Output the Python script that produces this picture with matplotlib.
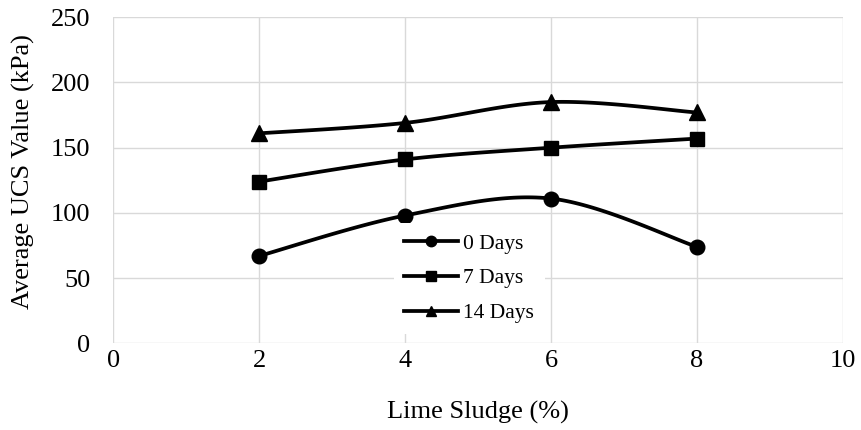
import numpy as np
import matplotlib
matplotlib.use("Agg")
import matplotlib.pyplot as plt

plt.rcParams['font.family'] = ['Liberation Serif', 'DejaVu Serif']

lime_sludge = [2, 4, 6, 8]
ucs_0_days = [67, 98, 111, 74]
ucs_7_days = [124, 141, 150, 157]
ucs_14_days = [161, 169, 185, 177]
series_labels = ["0 Days", "7 Days", "14 Days"]
x_ticks = [0, 2, 4, 6, 8, 10]
y_ticks = [0, 50, 100, 150, 200, 250]


def smooth(xs, ys, n=40, tension=1/6):
    """Excel-like smoothed curve (Catmull-Rom Bezier)."""
    p = np.column_stack([xs, ys]).astype(float)
    pts = []
    for i in range(len(p) - 1):
        p0 = p[i - 1] if i > 0 else p[i]
        p1 = p[i]
        p2 = p[i + 1]
        p3 = p[i + 2] if i + 2 < len(p) else p[i + 1]
        c1 = p1 + (p2 - p0) * tension
        c2 = p2 - (p3 - p1) * tension
        t = np.linspace(0, 1, n)[:, None]
        seg = ((1 - t) ** 3) * p1 + 3 * ((1 - t) ** 2) * t * c1 + 3 * (1 - t) * t ** 2 * c2 + t ** 3 * p2
        pts.append(seg if i == 0 else seg[1:])
    pts = np.vstack(pts)
    return pts[:, 0], pts[:, 1]


fig = plt.figure(figsize=(8.61, 4.30), dpi=100)
ax = fig.add_axes([0.1317, 0.2016, 0.847, 0.7582])

markers = ['o', 's', '^']
msizes = [10.5, 10.5, 11]
for ys, lab, m, ms in zip([ucs_0_days, ucs_7_days, ucs_14_days], series_labels, markers, msizes):
    sx, sy = smooth(lime_sludge, ys)
    ax.plot(sx, sy, color='black', lw=2.7, zorder=3, solid_capstyle='round')
    ax.plot(lime_sludge, ys, linestyle='none', marker=m, color='black', markersize=ms, zorder=4)
    ax.plot([], [], color='black', lw=2.7, marker=m, markersize=7.5, label=lab)

ax.set_xlim(0, 10)
ax.set_ylim(0, 250)
ax.set_xticks(x_ticks)
ax.set_yticks(y_ticks)
ax.grid(True, color='#D9D9D9', lw=1.0, zorder=0)
ax.set_axisbelow(True)
for s in ax.spines.values():
    s.set_visible(False)
ax.tick_params(length=0, labelsize=19)
ax.tick_params(axis='y', pad=16.5)
ax.tick_params(axis='x', pad=5)
ax.set_xlabel("Lime Sludge (%)", fontsize=19)
ax.set_ylabel("Average UCS Value (kPa)", fontsize=19)
ax.xaxis.set_label_coords(0.5, -0.177)
ax.xaxis.label.set_va('top')
ax.yaxis.set_label_coords(-0.1075, 0.527)

leg = ax.legend(loc='center', bbox_to_anchor=(0.488, 0.199), frameon=True, fontsize=15.5,
                handlelength=2.5, handletextpad=0.23, labelspacing=0.68, borderpad=0.5,
                borderaxespad=0)
leg.get_frame().set_edgecolor('none')
leg.get_frame().set_facecolor('white')
leg.get_frame().set_alpha(1)
leg.get_frame().set_boxstyle('square', pad=0)
leg.set_zorder(5)

fig.savefig("out.png", dpi=100)
